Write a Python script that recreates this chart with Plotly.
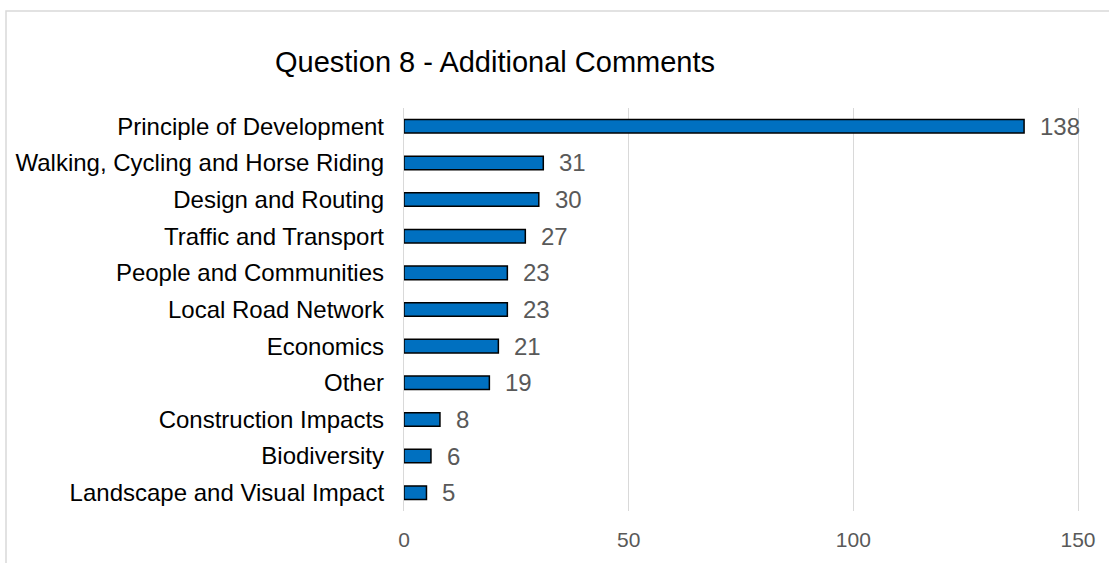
import plotly.graph_objects as go

# Additional comments for Question 8, grouped by topic
categories = [
    "Principle of Development",
    "Walking, Cycling and Horse Riding",
    "Design and Routing",
    "Traffic and Transport",
    "People and Communities",
    "Local Road Network",
    "Economics",
    "Other",
    "Construction Impacts",
    "Biodiversity",
    "Landscape and Visual Impact",
]
counts = [138, 31, 30, 27, 23, 23, 21, 19, 8, 6, 5]
x_ticks = [0, 50, 100, 150]

FONT = "Liberation Sans, Arial, sans-serif"
BAR_BLUE = "#0070C0"
GRID = "#D9D9D9"
LABEL_GREY = "#595959"

fig = go.Figure(
    go.Bar(
        x=counts,
        y=categories,
        orientation="h",
        width=0.37,
        marker=dict(color=BAR_BLUE, line=dict(color="black", width=1.5)),
        hoverinfo="x+y",
    )
)

# value labels to the right of each bar
for cat, val in zip(categories, counts):
    fig.add_annotation(
        x=val, y=cat, xref="x", yref="y",
        text=str(val), showarrow=False,
        xanchor="left", yanchor="middle", xshift=14,
        font=dict(family=FONT, size=24, color=LABEL_GREY),
    )

# light frame around the chart area
fig.add_shape(
    type="rect", xref="paper", yref="paper",
    x0=-0.5905, x1=1.6, y0=-0.6, y1=1.2407,
    line=dict(color=GRID, width=1.5), fillcolor="rgba(0,0,0,0)",
    layer="below",
)

fig.update_layout(
    width=1109,
    height=563,
    margin=dict(l=404, r=31, t=108, b=52),
    paper_bgcolor="white",
    plot_bgcolor="white",
    showlegend=False,
    title=dict(
        text="Question 8 - Additional Comments",
        x=495 / 1109, xref="container", xanchor="center",
        y=1 - 62 / 563, yref="container", yanchor="middle",
        font=dict(family=FONT, size=29, color="black"),
    ),
    xaxis=dict(
        range=[0, 150],
        tickvals=x_ticks,
        showgrid=True, gridcolor=GRID, gridwidth=1.3,
        zeroline=False, showline=False, ticks="",
        tickfont=dict(family=FONT, size=21, color=LABEL_GREY),
        ticklabelstandoff=14,
        fixedrange=True,
    ),
    yaxis=dict(
        categoryorder="array",
        categoryarray=categories,
        autorange="reversed",
        showgrid=False, zeroline=False, ticks="",
        # edge gridlines at 0 and 150
        showline=True, mirror=True, linecolor=GRID, linewidth=1.3,
        tickfont=dict(family=FONT, size=24, color="black"),
        ticklabelstandoff=14,
        fixedrange=True,
    ),
)

fig.write_html("out.html")
